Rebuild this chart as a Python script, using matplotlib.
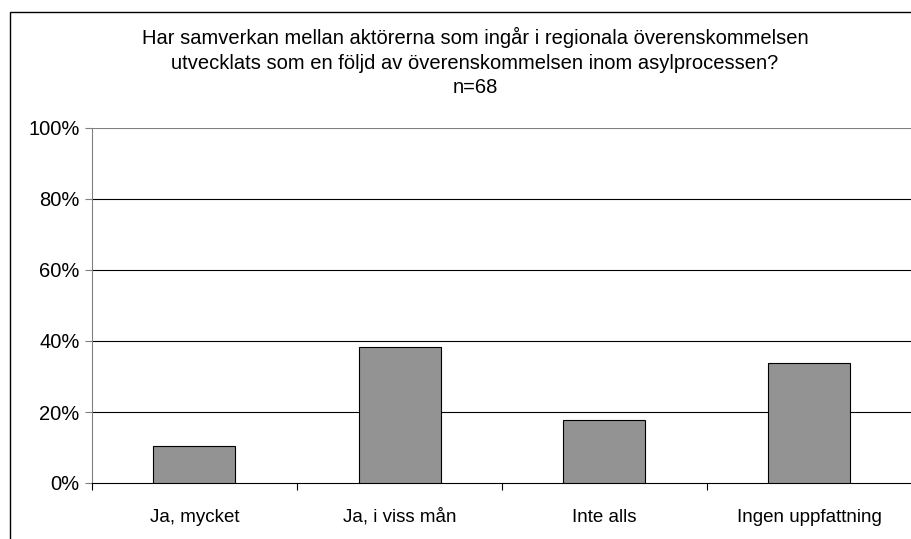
import numpy as np
import matplotlib.pyplot as plt
from matplotlib.patches import Rectangle
from matplotlib.ticker import FixedLocator, PercentFormatter

plt.rcParams['font.family'] = ['Liberation Sans', 'DejaVu Sans']

categories = ["Ja, mycket", "Ja, i viss mån", "Inte alls", "Ingen uppfattning"]
counts = [7, 26, 12, 23]
n_total = 68
shares = [c / n_total * 100 for c in counts]
title = ("Har samverkan mellan aktörerna som ingår i regionala överenskommelsen\n"
         "utvecklats som en följd av överenskommelsen inom asylprocessen?\n"
         "n=68")

fig = plt.figure(figsize=(9.12, 5.39), dpi=100)
ax = fig.add_axes([92 / 912, 56 / 539, 820 / 912, 355 / 539])

x = np.arange(len(categories))
ax.bar(x, shares, width=0.4, color="#939393", edgecolor="black", linewidth=0.8, zorder=3)

ax.set_xlim(-0.5, len(categories) - 0.5)
ax.set_ylim(0, 100)
ax.set_yticks([0, 20, 40, 60, 80, 100])
ax.yaxis.set_major_formatter(PercentFormatter(decimals=0))
ax.set_xticks(x)
ax.set_xticklabels(categories, va="baseline")
ax.tick_params(axis="x", length=0, labelsize=13.5, pad=28)
ax.xaxis.set_minor_locator(FixedLocator(np.arange(-0.5, len(categories), 1.0)))
ax.tick_params(axis="x", which="minor", length=5, width=0.8, color="black")
ax.tick_params(axis="y", length=5, width=0.8, labelsize=14.5, color="#808080", pad=4)

for y in [20, 40, 60, 80]:
    ax.axhline(y, color="black", linewidth=0.8, zorder=1)
ax.axhline(100, color="#808080", linewidth=1.5, zorder=1)

for s in ["top", "right"]:
    ax.spines[s].set_visible(False)
ax.spines["left"].set_color("#808080")
ax.spines["bottom"].set_color("black")
ax.spines["bottom"].set_linewidth(0.8)

fig.text(475 / 912, 1 - 62 / 539, title, ha="center", va="center",
         fontsize=14.5, linespacing=1.36)

fig.patches.append(Rectangle((10 / 912, -0.01), 1.0, 1 - 12 / 539 + 0.01,
                             transform=fig.transFigure, fill=False,
                             edgecolor="black", linewidth=1.0, clip_on=False))

plt.savefig("out.png", dpi=100)
